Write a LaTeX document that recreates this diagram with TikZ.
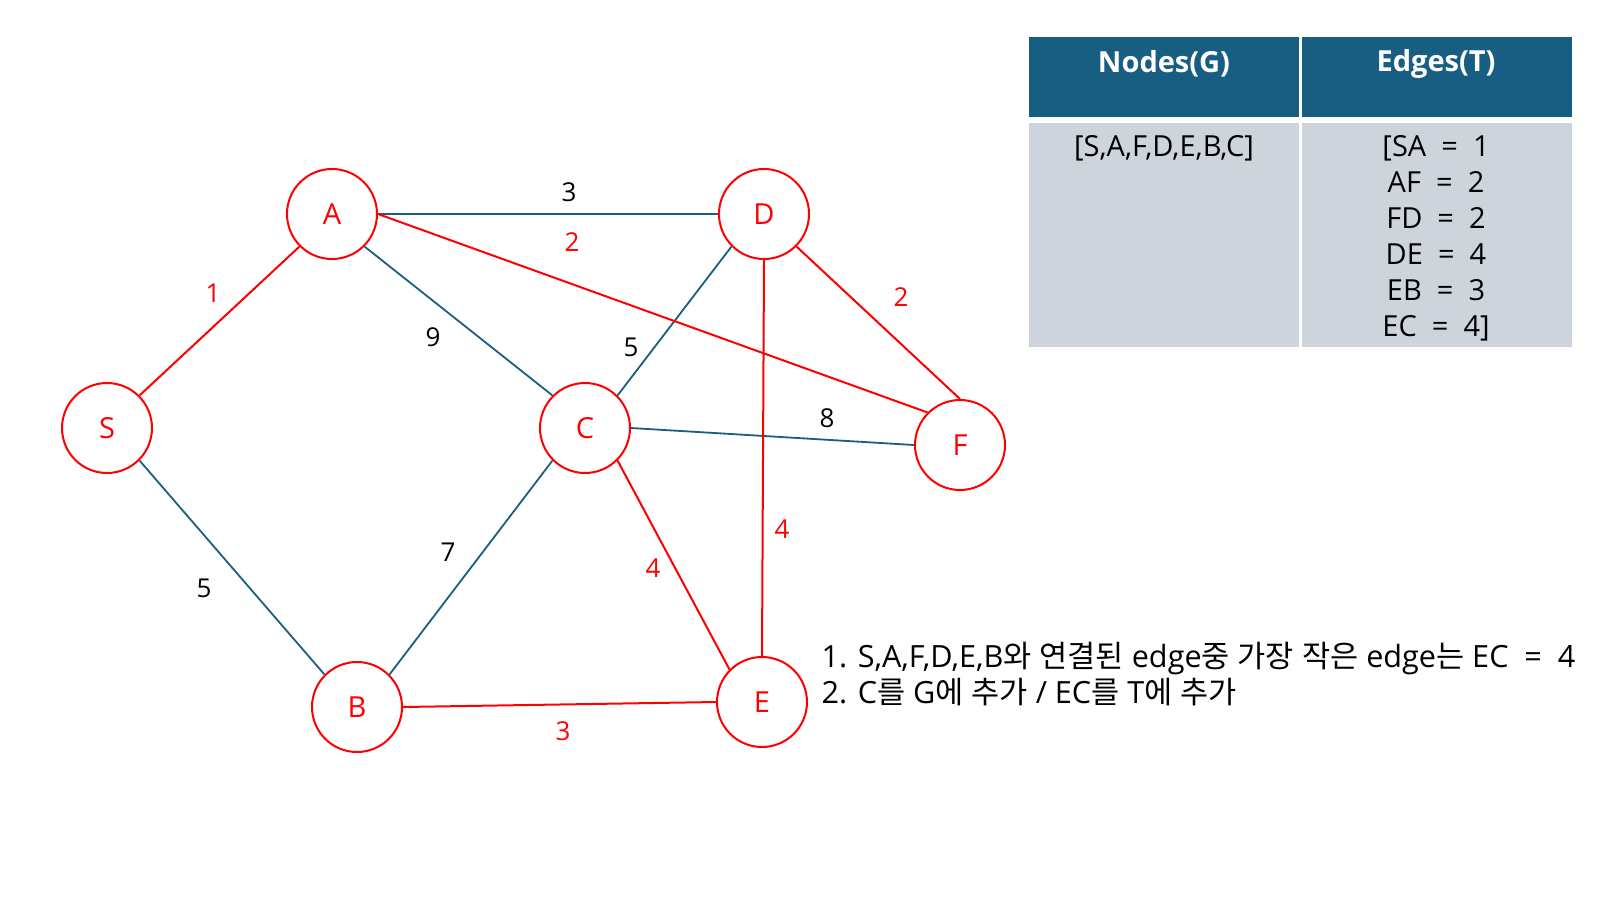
\documentclass[tikz,border=0pt]{standalone}
\usepackage{fontspec}
\setmainfont{Open Sans}
\newfontfamily\krfont{Noto Sans CJK KR}
\usepackage{xcolor}
\usepackage{tikz}
\definecolor{edgeblue}{RGB}{26,94,128}
\definecolor{headblue}{RGB}{23,94,130}
\definecolor{cellgray}{RGB}{206,212,219}

\begin{document}
\begin{tikzpicture}[x=1pt,y=-1pt,
    vertex/.style={circle,draw=red,line width=2pt,minimum size=90pt,inner sep=0pt,text=red,font=\fontsize{29}{35}\selectfont},
    tree/.style={red,line width=2pt},
    other/.style={edgeblue,line width=1.8pt},
    wt/.style={font=\fontsize{26}{31}\selectfont},
    celltext/.style={align=center,font=\fontsize{29}{36}\selectfont}]
    \useasboundingbox (0,0) rectangle (1600,900);
    % vertices
    \node[vertex] (A) at (332,214) {A};
    \node[vertex] (D) at (764,214) {D};
    \node[vertex] (S) at (107,428) {S};
    \node[vertex] (C) at (585,428) {C};
    \node[vertex] (F) at (960,445) {F};
    \node[vertex] (B) at (357,707) {B};
    \node[vertex] (E) at (762,702) {E};
    % edges not in the tree
    \draw[other] (A.east) -- (D.west);
    \draw[other] (A.south east) -- (C.north west);
    \draw[other] (S.south east) -- (B.north west);
    \draw[other] (D.south west) -- (C.north east);
    \draw[other] (C.east) -- (F.west);
    \draw[other] (C.south west) -- (B.north east);
    % tree edges
    \draw[tree] (S.north east) -- (A.south west);
    \draw[tree] (A.east) -- (F.north west);
    \draw[tree] (D.south east) -- (F.north);
    \draw[tree] (D.south) -- (E.north);
    \draw[tree] (C.south east) -- (E.north west);
    \draw[tree] (B.east) -- (E.west);
    % weights
    \node[wt] (wAD) at (569,192) {3};
    \node[wt,red] (wAF) at (572,242) {2};
    \node[wt,red] (wSA) at (213,293) {1};
    \node[wt] (wAC) at (433,337) {9};
    \node[wt] (wCD) at (631,347) {5};
    \node[wt,red] (wDF) at (901,297) {2};
    \node[wt] (wCF) at (827,418) {8};
    \node[wt] (wSB) at (204,588) {5};
    \node[wt] (wBC) at (448,552) {7};
    \node[wt,red] (wCE) at (653,568) {4};
    \node[wt,red] (wDE) at (782,529) {4};
    \node[wt,red] (wBE) at (563,731) {3};
    % table
    \fill[headblue] (1029,37) rectangle (1299,117);
    \fill[headblue] (1302,37) rectangle (1572,117);
    \fill[cellgray] (1029,123) rectangle (1299,347);
    \fill[cellgray] (1302,123) rectangle (1572,347);
    \node[celltext,white,font=\fontsize{29}{36}\selectfont\bfseries] (hG) at (1164,64) {Nodes(G)};
    \node[celltext,white,font=\fontsize{29}{36}\selectfont\bfseries] (hT) at (1436,64) {Edges(T)};
    \node[celltext] (cG) at (1164,148) {[S,A,F,D,E,B,C]};
    \node[celltext] (cT) at (1436,238) {[SA\ \ =\ \ 1\\AF\ \ =\ \ 2\\FD\ \ =\ \ 2\\DE\ \ =\ \ 4\\EB\ \ =\ \ 3\\EC\ \ =\ \ 4]};
    % note
    \node[anchor=west,align=left,font=\fontsize{30.6}{36}\selectfont] (note) at (818,674)
        {1. S,A,F,D,E,B{\krfont 와} {\krfont 연결된} edge{\krfont 중} {\krfont 가장} {\krfont 작은} edge{\krfont 는} EC\ \ =\ \ 4\\
         2. C{\krfont 를} G{\krfont 에} {\krfont 추가} / EC{\krfont 를} T{\krfont 에} {\krfont 추가}};
\end{tikzpicture}
\end{document}
